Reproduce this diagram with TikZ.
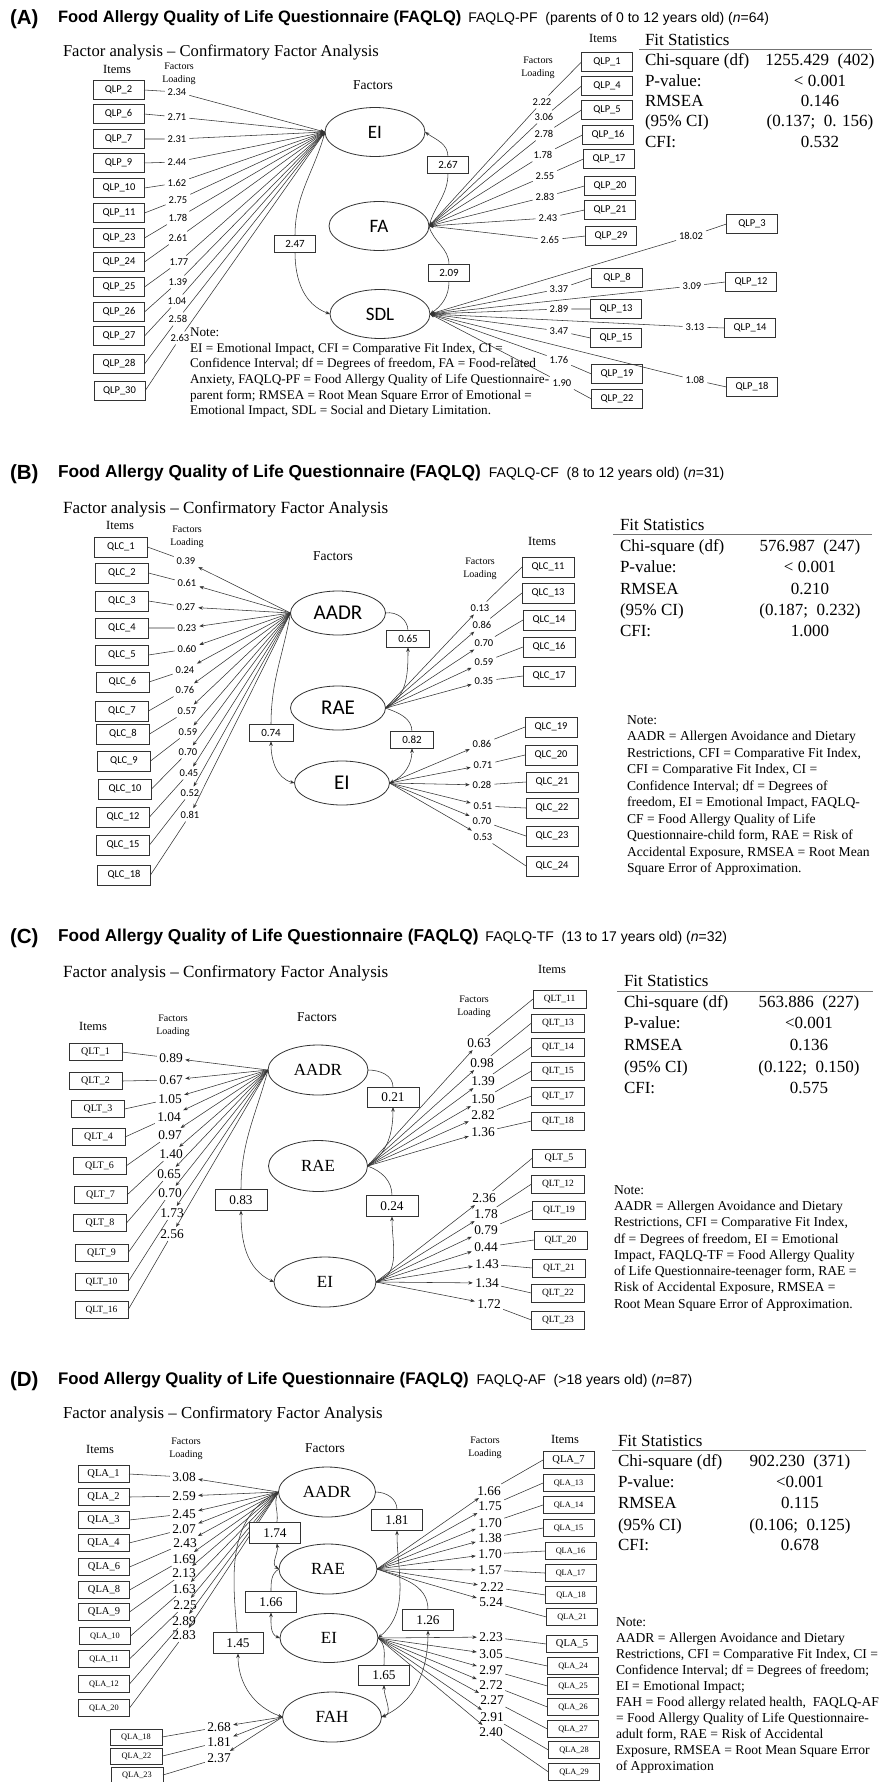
\documentclass[tikz,border=0pt]{standalone}
\usepackage{fontspec}
\setmainfont{Liberation Serif}
\setsansfont{Liberation Sans}
\newfontfamily\calib{Carlito}
\usepackage{tikz}
\usetikzlibrary{arrows.meta, positioning, shapes.geometric}

\tikzset{
  every node/.style={inner sep=0pt, outer sep=0pt},
  >={Stealth[length=4.5pt, width=3.5pt]},
  lk/.style={line width=0.55pt, draw=black!80},
  panel/.style={font=\sffamily\bfseries\fontsize{20.5}{22}\selectfont, anchor=base west},
  ttl/.style={font=\sffamily\bfseries\fontsize{#1}{18}\selectfont, anchor=base west},
  sub/.style={font=\sffamily\fontsize{14}{16}\selectfont, anchor=base west},
  cfa/.style={font=\fontsize{#1}{19}\selectfont, anchor=base west},
  hdr/.style={font=\fontsize{12.5}{14}\selectfont},
  facs/.style={font=\fontsize{13.5}{15}\selectfont},
  fload/.style={font=\fontsize{10}{13}\selectfont, align=center},
  itemsf/.style={draw=black!80, line width=0.8pt, minimum width=51pt, minimum height=19pt, font=\calib\fontsize{10.5}{12}\selectfont},
  itemtm/.style={draw=black!80, line width=0.8pt, minimum width=52pt, minimum height=17pt, font=\fontsize{10}{12}\selectfont},
  itemsm/.style={itemtm, font=\fontsize{8.3}{10}\selectfont},
  ldsf/.style={font=\calib\fontsize{10.5}{12}\selectfont, inner sep=3pt},
  ldtm/.style={font=\fontsize{13.4}{15}\selectfont, inner sep=2.5pt},
  factsf/.style={ellipse, draw=black!80, line width=0.8pt, minimum width=100pt, minimum height=49pt, font=\calib\fontsize{19}{22}\selectfont},
  facttm/.style={ellipse, draw=black!80, line width=0.8pt, minimum width=100pt, minimum height=50pt, font=\fontsize{17}{19}\selectfont},
  covsf/.style={draw=black!80, line width=0.8pt, fill=white, minimum width=41pt, minimum height=16.5pt, font=\calib\fontsize{11}{12}\selectfont},
  covtm/.style={draw=black!80, line width=0.8pt, fill=white, minimum width=52pt, minimum height=21pt, font=\fontsize{13.3}{15}\selectfont},
  fitl/.style={font=\fontsize{17}{19}\selectfont, anchor=base west},
  fitv/.style={font=\fontsize{17}{19}\selectfont, anchor=base},
  rulel/.style={draw=black!55, line width=1pt},
  note/.style={font=\fontsize{13.6}{#1}\selectfont, anchor=base west},
}

\begin{document}
\begin{tikzpicture}[x=1pt, y=1pt]
  \useasboundingbox (0,0) rectangle (887,-1782);

  % (A)
  \node[panel] (pA) at (10,-25) {(A)};
  \node[ttl=16.5] (tA) at (58,-23) {Food Allergy Quality of Life Questionnaire (FAQLQ)};
  \node[sub, right=7pt of tA.base east, anchor=base west] (sA) {FAQLQ-PF\ \ (parents of 0 to 12 years old) (\textit{n}=64)};
  \node[cfa=16.6] (fA) at (63,-57) {Factor analysis -- Confirmatory Factor Analysis};
  \node[hdr] (itA1) at (117,-69) {Items};
  \node[fload] (flA1) at (179,-73.5) {Factors\\Loading};
  \node[facs] (fcA) at (373,-85) {Factors};
  \node[hdr] (itA2) at (603,-38) {Items};
  \node[fload] (flA2) at (538,-67.5) {Factors\\Loading};

  \node[factsf] (eiA) at (375,-132) {EI};
  \node[factsf] (faA) at (379,-226) {FA};
  \node[factsf] (sdlA) at (380,-314) {SDL};

  \node[itemsf] (qlp2) at (118.5,-90) {QLP\_2};
  \node[itemsf] (qlp6) at (118.5,-114) {QLP\_6};
  \node[itemsf] (qlp7) at (118.5,-139) {QLP\_7};
  \node[itemsf] (qlp9) at (118.5,-163) {QLP\_9};
  \node[itemsf] (qlp10) at (119,-188) {QLP\_10};
  \node[itemsf] (qlp11) at (119,-213) {QLP\_11};
  \node[itemsf] (qlp23) at (119,-238) {QLP\_23};
  \node[itemsf] (qlp24) at (119,-262) {QLP\_24};
  \node[itemsf] (qlp25) at (119,-287) {QLP\_25};
  \node[itemsf] (qlp26) at (119,-312) {QLP\_26};
  \node[itemsf] (qlp27) at (119,-336) {QLP\_27};
  \node[itemsf] (qlp28) at (119,-364) {QLP\_28};
  \node[itemsf] (qlp30) at (119.5,-391) {QLP\_30};

  \node[ldsf] (lp2) at (177,-92) {2.34};
  \node[ldsf] (lp6) at (177,-117) {2.71};
  \node[ldsf] (lp7) at (177,-139) {2.31};
  \node[ldsf] (lp9) at (177,-162) {2.44};
  \node[ldsf] (lp10) at (177,-183) {1.62};
  \node[ldsf] (lp11) at (178,-200) {2.75};
  \node[ldsf] (lp23) at (178,-218) {1.78};
  \node[ldsf] (lp24) at (178,-238) {2.61};
  \node[ldsf] (lp25) at (179,-262) {1.77};
  \node[ldsf] (lp26) at (178,-282) {1.39};
  \node[ldsf] (lp27) at (177,-301) {1.04};
  \node[ldsf] (lp28) at (178,-319) {2.58};
  \node[ldsf] (lp30) at (180,-338) {2.63};

  \draw[lk, ->] (qlp2.east) -- (lp2) -- (eiA.west);
  \draw[lk, ->] (qlp6.east) -- (lp6) -- (eiA.west);
  \draw[lk, ->] (qlp7.east) -- (lp7) -- (eiA.west);
  \draw[lk, ->] (qlp9.east) -- (lp9) -- (eiA.west);
  \draw[lk, ->] (qlp10.east) -- (lp10) -- (eiA.west);
  \draw[lk, ->] (qlp11.east) -- (lp11) -- (eiA.west);
  \draw[lk, ->] (qlp23.east) -- (lp23) -- (eiA.west);
  \draw[lk, ->] (qlp24.east) -- (lp24) -- (eiA.west);
  \draw[lk, ->] (qlp25.east) -- (lp25) -- (eiA.west);
  \draw[lk, ->] (qlp26.east) -- (lp26) -- (eiA.west);
  \draw[lk, ->] (qlp27.east) -- (lp27) -- (eiA.west);
  \draw[lk, ->] (qlp28.east) -- (lp28) -- (eiA.west);
  \draw[lk, ->] (qlp30.east) -- (lp30) -- (eiA.west);

  \node[itemsf] (qlp1) at (607,-62) {QLP\_1};
  \node[itemsf] (qlp4) at (607,-86) {QLP\_4};
  \node[itemsf] (qlp5) at (607,-110) {QLP\_5};
  \node[itemsf] (qlp16) at (608,-135) {QLP\_16};
  \node[itemsf] (qlp17) at (609,-159) {QLP\_17};
  \node[itemsf] (qlp20) at (610,-186) {QLP\_20};
  \node[itemsf] (qlp21) at (610,-210) {QLP\_21};
  \node[itemsf] (qlp29) at (611,-236) {QLP\_29};

  \node[ldsf] (lp1) at (542,-102) {2.22};
  \node[ldsf] (lp4) at (544,-117) {3.06};
  \node[ldsf] (lp5) at (544,-134) {2.78};
  \node[ldsf] (lp16) at (543,-155) {1.78};
  \node[ldsf] (lp17) at (545,-176) {2.55};
  \node[ldsf] (lp20) at (545,-197) {2.83};
  \node[ldsf] (lp21) at (548,-218) {2.43};
  \node[ldsf] (lp29) at (550,-240) {2.65};

  \draw[lk, ->] (qlp1.west) -- (lp1) -- (faA.east);
  \draw[lk, ->] (qlp4.west) -- (lp4) -- (faA.east);
  \draw[lk, ->] (qlp5.west) -- (lp5) -- (faA.east);
  \draw[lk, ->] (qlp16.west) -- (lp16) -- (faA.east);
  \draw[lk, ->] (qlp17.west) -- (lp17) -- (faA.east);
  \draw[lk, ->] (qlp20.west) -- (lp20) -- (faA.east);
  \draw[lk, ->] (qlp21.west) -- (lp21) -- (faA.east);
  \draw[lk, ->] (qlp29.west) -- (lp29) -- (faA.east);

  \node[itemsf] (qlp3) at (752,-224) {QLP\_3};
  \node[itemsf] (qlp8) at (617,-278) {QLP\_8};
  \node[itemsf] (qlp12) at (751,-282) {QLP\_12};
  \node[itemsf] (qlp13) at (616,-309) {QLP\_13};
  \node[itemsf] (qlp14) at (750,-328) {QLP\_14};
  \node[itemsf] (qlp15) at (616,-338) {QLP\_15};
  \node[itemsf] (qlp18) at (752,-387) {QLP\_18};
  \node[itemsf] (qlp19) at (617,-374) {QLP\_19};
  \node[itemsf] (qlp22) at (617,-399) {QLP\_22};

  \node[ldsf] (lp3) at (691,-236) {18.02};
  \node[ldsf] (lp8) at (559,-289) {3.37};
  \node[ldsf] (lp12) at (692,-286) {3.09};
  \node[ldsf] (lp13) at (559,-309) {2.89};
  \node[ldsf] (lp14) at (695,-327) {3.13};
  \node[ldsf] (lp15) at (559,-331) {3.47};
  \node[ldsf] (lp18) at (695,-380) {1.08};
  \node[ldsf] (lp19) at (559,-360) {1.76};
  \node[ldsf] (lp22) at (562,-383) {1.90};

  \draw[lk, ->] (qlp3.west) -- (lp3) -- (sdlA.east);
  \draw[lk, ->] (qlp8.west) -- (lp8) -- (sdlA.east);
  \draw[lk, ->] (qlp12.west) -- (lp12) -- (sdlA.east);
  \draw[lk, ->] (qlp13.west) -- (lp13) -- (sdlA.east);
  \draw[lk, ->] (qlp14.west) -- (lp14) -- (sdlA.east);
  \draw[lk, ->] (qlp15.west) -- (lp15) -- (sdlA.east);
  \draw[lk, ->] (qlp18.west) -- (lp18) -- (sdlA.east);
  \draw[lk, ->] (qlp19.west) -- (lp19) -- (sdlA.east);
  \draw[lk, ->] (qlp22.west) -- (lp22) -- (sdlA.east);

  \node[covsf] (kA267) at (448,-165) {2.67};
  \node[covsf] (kA209) at (449,-273) {2.09};
  \node[covsf] (kA247) at (295,-244) {2.47};
  \draw[lk, ->] (faA.east) to[out=75, in=-90] (kA267) to[out=90, in=-35] (eiA.east);
  \draw[lk, ->] (faA.east) to[out=-75, in=90] (kA209) to[out=-90, in=35] (sdlA.east);
  \draw[lk, ->] (eiA.west) to[out=-105, in=90] (kA247) to[out=-90, in=160] (sdlA.west);

  \node[fitl] (fsA) at (645,-46) {Fit Statistics};
  \draw[rulel] (639,-49.5) -- (872,-49.5);
  \node[fitl] (chA) at (645,-66) {Chi-square (df)};
  \node[fitv] (chvA) at (820,-66) {1255.429\ \ (402)};
  \node[fitl] (pvA) at (645,-86.5) {P-value:};
  \node[fitv] (pvvA) at (820,-86.5) {< 0.001};
  \node[fitl] (rmA) at (645,-107) {RMSEA};
  \node[fitv] (rmvA) at (820,-107) {0.146};
  \node[fitl] (ciA) at (645,-127) {(95\% CI)};
  \node[fitv] (civA) at (820,-127) {(0.137;\ \ 0. 156)};
  \node[fitl] (cfA) at (645,-147.5) {CFI:};
  \node[fitv] (cfvA) at (820,-147.5) {0.532};

  \node[note=15.6, font=\fontsize{13.2}{15.6}\selectfont] (nA) at (190,-336.7) {\begin{tabular}[t]{@{}l@{}}Note:\\
    EI = Emotional Impact, CFI = Comparative Fit Index, CI =\\
    Confidence Interval; df = Degrees of freedom, FA = Food-related\\
    Anxiety, FAQLQ-PF = Food Allergy Quality of Life Questionnaire-\\
    parent form; RMSEA = Root Mean Square Error of Emotional =\\
    Emotional Impact, SDL = Social and Dietary Limitation.\end{tabular}};

  % (B)
  \node[panel] (pB) at (10,-479) {(B)};
  \node[ttl=17.3] (tB) at (58,-477) {Food Allergy Quality of Life Questionnaire (FAQLQ)};
  \node[sub, right=8pt of tB.base east, anchor=base west] (sB) {FAQLQ-CF\ \ (8 to 12 years old) (\textit{n}=31)};
  \node[cfa=17.1] (fB) at (63,-513) {Factor analysis -- Confirmatory Factor Analysis};
  \node[hdr] (itB1) at (120,-525) {Items};
  \node[fload] (flB1) at (187,-537) {Factors\\Loading};
  \node[facs] (fcB) at (333,-556) {Factors};
  \node[hdr] (itB2) at (542,-541) {Items};
  \node[fload] (flB2) at (480,-569) {Factors\\Loading};

  \node[factsf, minimum width=95pt, minimum height=44pt, font=\calib\fontsize{21}{22}\selectfont] (aadrB) at (338,-613) {AADR};
  \node[factsf, minimum width=95pt, minimum height=44pt, font=\calib\fontsize{21}{22}\selectfont] (raeB) at (338,-708) {RAE};
  \node[factsf, minimum width=95pt, minimum height=44pt, font=\calib\fontsize{21}{22}\selectfont] (eiB) at (342,-783) {EI};

  \node[itemsf, minimum width=53pt, minimum height=20pt] (qlc1) at (121,-547) {QLC\_1};
  \node[itemsf, minimum width=53pt, minimum height=20pt] (qlc2) at (122,-573) {QLC\_2};
  \node[itemsf, minimum width=53pt, minimum height=20pt] (qlc3) at (122,-601) {QLC\_3};
  \node[itemsf, minimum width=53pt, minimum height=20pt] (qlc4) at (122,-628) {QLC\_4};
  \node[itemsf, minimum width=53pt, minimum height=20pt] (qlc5) at (122,-655) {QLC\_5};
  \node[itemsf, minimum width=53pt, minimum height=20pt] (qlc6) at (122.5,-682) {QLC\_6};
  \node[itemsf, minimum width=53pt, minimum height=20pt] (qlc7) at (122,-711) {QLC\_7};
  \node[itemsf, minimum width=53pt, minimum height=20pt] (qlc8) at (123,-734) {QLC\_8};
  \node[itemsf, minimum width=53pt, minimum height=20pt] (qlc9) at (124,-761) {QLC\_9};
  \node[itemsf, minimum width=53pt, minimum height=20pt] (qlc10) at (125,-789) {QLC\_10};
  \node[itemsf, minimum width=53pt, minimum height=20pt] (qlc12) at (123,-817) {QLC\_12};
  \node[itemsf, minimum width=53pt, minimum height=20pt] (qlc15) at (123,-845) {QLC\_15};
  \node[itemsf, minimum width=53pt, minimum height=20pt] (qlc18) at (124,-875) {QLC\_18};

  \node[ldsf] (lc1) at (186,-561) {0.39};
  \node[ldsf] (lc2) at (187,-583) {0.61};
  \node[ldsf] (lc3) at (186,-607) {0.27};
  \node[ldsf] (lc4) at (187,-628) {0.23};
  \node[ldsf] (lc5) at (187,-649) {0.60};
  \node[ldsf] (lc6) at (185,-670) {0.24};
  \node[ldsf] (lc7) at (185,-690) {0.76};
  \node[ldsf] (lc8) at (187,-711) {0.57};
  \node[ldsf] (lc9) at (188,-732) {0.59};
  \node[ldsf] (lc10) at (188,-752) {0.70};
  \node[ldsf] (lc12) at (189,-773) {0.45};
  \node[ldsf] (lc15) at (190,-793) {0.52};
  \node[ldsf] (lc18) at (190,-815) {0.81};

  \draw[lk, <-] (qlc1.east) -- (lc1) -- (aadrB.west);
  \draw[lk, <-] (qlc2.east) -- (lc2) -- (aadrB.west);
  \draw[lk, <-] (qlc3.east) -- (lc3) -- (aadrB.west);
  \draw[lk, <-] (qlc4.east) -- (lc4) -- (aadrB.west);
  \draw[lk, <-] (qlc5.east) -- (lc5) -- (aadrB.west);
  \draw[lk, <-] (qlc6.east) -- (lc6) -- (aadrB.west);
  \draw[lk, <-] (qlc7.east) -- (lc7) -- (aadrB.west);
  \draw[lk, <-] (qlc8.east) -- (lc8) -- (aadrB.west);
  \draw[lk, <-] (qlc9.east) -- (lc9) -- (aadrB.west);
  \draw[lk, <-] (qlc10.east) -- (lc10) -- (aadrB.west);
  \draw[lk, <-] (qlc12.east) -- (lc12) -- (aadrB.west);
  \draw[lk, <-] (qlc15.east) -- (lc15) -- (aadrB.west);
  \draw[lk, <-] (qlc18.east) -- (lc18) -- (aadrB.west);

  \node[itemsf, minimum width=52pt, minimum height=20pt] (qlc11) at (548,-567) {QLC\_11};
  \node[itemsf, minimum width=52pt, minimum height=20pt] (qlc13) at (548,-593) {QLC\_13};
  \node[itemsf, minimum width=52pt, minimum height=20pt] (qlc14) at (549,-620) {QLC\_14};
  \node[itemsf, minimum width=52pt, minimum height=20pt] (qlc16) at (549,-647) {QLC\_16};
  \node[itemsf, minimum width=52pt, minimum height=20pt] (qlc17) at (549,-676) {QLC\_17};
  \node[itemsf, minimum width=52pt, minimum height=20pt] (qlc19) at (551,-727) {QLC\_19};
  \node[itemsf, minimum width=52pt, minimum height=20pt] (qlc20) at (551,-755) {QLC\_20};
  \node[itemsf, minimum width=52pt, minimum height=20pt] (qlc21) at (552,-782) {QLC\_21};
  \node[itemsf, minimum width=52pt, minimum height=20pt] (qlc22) at (552,-808) {QLC\_22};
  \node[itemsf, minimum width=52pt, minimum height=20pt] (qlc23) at (552,-836) {QLC\_23};
  \node[itemsf, minimum width=52pt, minimum height=20pt] (qlc24) at (552,-866) {QLC\_24};

  \node[ldsf] (lc11) at (480,-608) {0.13};
  \node[ldsf] (lc13) at (482,-625) {0.86};
  \node[ldsf] (lc14) at (484,-643) {0.70};
  \node[ldsf] (lc16) at (484,-662) {0.59};
  \node[ldsf] (lc17) at (484,-681) {0.35};
  \node[ldsf] (lc19) at (482,-744) {0.86};
  \node[ldsf] (lc20) at (483,-765) {0.71};
  \node[ldsf] (lc21) at (482,-785) {0.28};
  \node[ldsf] (lc22) at (483,-806) {0.51};
  \node[ldsf] (lc23) at (482,-821) {0.70};
  \node[ldsf] (lc24) at (483,-837) {0.53};

  \draw[lk, <-] (qlc11.west) -- (lc11) -- (raeB.east);
  \draw[lk, <-] (qlc13.west) -- (lc13) -- (raeB.east);
  \draw[lk, <-] (qlc14.west) -- (lc14) -- (raeB.east);
  \draw[lk, <-] (qlc16.west) -- (lc16) -- (raeB.east);
  \draw[lk, <-] (qlc17.west) -- (lc17) -- (raeB.east);
  \draw[lk, <-] (qlc19.west) -- (lc19) -- (eiB.east);
  \draw[lk, <-] (qlc20.west) -- (lc20) -- (eiB.east);
  \draw[lk, <-] (qlc21.west) -- (lc21) -- (eiB.east);
  \draw[lk, <-] (qlc22.west) -- (lc22) -- (eiB.east);
  \draw[lk, <-] (qlc23.west) -- (lc23) -- (eiB.east);
  \draw[lk, <-] (qlc24.west) -- (lc24) -- (eiB.east);

  \node[covsf, minimum width=43pt] (kB065) at (408,-639) {0.65};
  \node[covsf, minimum width=43pt] (kB082) at (412,-740) {0.82};
  \node[covsf, minimum width=44pt] (kB074) at (271,-733) {0.74};
  \draw[lk, <->] (aadrB.east) to[out=10, in=90] (kB065) to[out=-90, in=30] (raeB.east);
  \draw[lk, <->] (raeB.east) to[out=-20, in=90] (kB082) to[out=-90, in=25] (eiB.east);
  \draw[lk, <->] (aadrB.west) to[out=-100, in=90] (kB074) to[out=-90, in=165] (eiB.west);

  \node[fitl] (fsB) at (620,-530) {Fit Statistics};
  \draw[rulel] (613,-534.3) -- (872,-534.3);
  \node[fitl] (chB) at (620,-551) {Chi-square (df)};
  \node[fitv] (chvB) at (810,-551) {576.987\ \ (247)};
  \node[fitl] (pvB) at (620,-572.7) {P-value:};
  \node[fitv] (pvvB) at (810,-572.7) {< 0.001};
  \node[fitl] (rmB) at (620,-594) {RMSEA};
  \node[fitv] (rmvB) at (810,-594) {0.210};
  \node[fitl] (ciB) at (620,-615) {(95\% CI)};
  \node[fitv] (civB) at (810,-615) {(0.187;\ \ 0.232)};
  \node[fitl] (cfB) at (620,-636.7) {CFI:};
  \node[fitv] (cfvB) at (810,-636.7) {1.000};

  \node[note=16.5] (nB) at (627,-724.3) {\begin{tabular}[t]{@{}l@{}}Note:\\
    AADR = Allergen Avoidance and Dietary\\
    Restrictions, CFI = Comparative Fit Index,\\
    CFI = Comparative Fit Index, CI =\\
    Confidence Interval; df = Degrees of\\
    freedom, EI = Emotional Impact, FAQLQ-\\
    CF = Food Allergy Quality of Life\\
    Questionnaire-child form, RAE = Risk of\\
    Accidental Exposure, RMSEA = Root Mean\\
    Square Error of Approximation.\end{tabular}};

  % (C)
  \node[panel] (pC) at (10,-943) {(C)};
  \node[ttl=17.2] (tC) at (58,-941) {Food Allergy Quality of Life Questionnaire (FAQLQ)};
  \node[sub, right=7pt of tC.base east, anchor=base west] (sC) {FAQLQ-TF\ \ (13 to 17 years old) (\textit{n}=32)};
  \node[cfa=17.1] (fC) at (63,-977) {Factor analysis -- Confirmatory Factor Analysis};
  \node[hdr] (itC1) at (93,-1026) {Items};
  \node[fload] (flC1) at (173,-1026) {Factors\\Loading};
  \node[facs] (fcC) at (317,-1017) {Factors};
  \node[hdr] (itC2) at (552,-969) {Items};
  \node[fload] (flC2) at (474,-1007) {Factors\\Loading};

  \node[facttm] (aadrC) at (318,-1070) {AADR};
  \node[facttm, minimum width=99pt, minimum height=51pt] (raeC) at (318,-1166) {RAE};
  \node[facttm, minimum width=102pt] (eiC) at (325,-1282) {EI};

  \node[itemtm, minimum width=53pt] (qlt1) at (95.5,-1052) {QLT\_1};
  \node[itemtm, minimum width=53pt] (qlt2) at (95.5,-1081) {QLT\_2};
  \node[itemtm, minimum width=53pt] (qlt3) at (98,-1109) {QLT\_3};
  \node[itemtm, minimum width=53pt] (qlt4) at (98.5,-1137) {QLT\_4};
  \node[itemtm, minimum width=53pt] (qlt6) at (99.5,-1166) {QLT\_6};
  \node[itemtm, minimum width=53pt] (qlt7) at (100.5,-1195) {QLT\_7};
  \node[itemtm, minimum width=53pt] (qlt8) at (100,-1223) {QLT\_8};
  \node[itemtm, minimum width=53pt] (qlt9) at (101.5,-1253) {QLT\_9};
  \node[itemtm, minimum width=53pt, font=\fontsize{9.5}{11}\selectfont] (qlt10) at (101.5,-1282) {QLT\_10};
  \node[itemtm, minimum width=53pt, font=\fontsize{9.5}{11}\selectfont] (qlt16) at (101.5,-1310) {QLT\_16};

  \node[ldtm] (lt1) at (171,-1058) {0.89};
  \node[ldtm] (lt2) at (171,-1080) {0.67};
  \node[ldtm] (lt3) at (170,-1099) {1.05};
  \node[ldtm] (lt4) at (169,-1117) {1.04};
  \node[ldtm] (lt6) at (170,-1135) {0.97};
  \node[ldtm] (lt7) at (171,-1154) {1.40};
  \node[ldtm] (lt8) at (169,-1174) {0.65};
  \node[ldtm] (lt9) at (170,-1193) {0.70};
  \node[ldtm] (lt10) at (172,-1213) {1.73};
  \node[ldtm] (lt16) at (172,-1234) {2.56};

  \draw[lk, <-] (qlt1.east) -- (lt1) -- (aadrC.west);
  \draw[lk, <-] (qlt2.east) -- (lt2) -- (aadrC.west);
  \draw[lk, <-] (qlt3.east) -- (lt3) -- (aadrC.west);
  \draw[lk, <-] (qlt4.east) -- (lt4) -- (aadrC.west);
  \draw[lk, <-] (qlt6.east) -- (lt6) -- (aadrC.west);
  \draw[lk, <-] (qlt7.east) -- (lt7) -- (aadrC.west);
  \draw[lk, <-] (qlt8.east) -- (lt8) -- (aadrC.west);
  \draw[lk, <-] (qlt9.east) -- (lt9) -- (aadrC.west);
  \draw[lk, <-] (qlt10.east) -- (lt10) -- (aadrC.west);
  \draw[lk, <-] (qlt16.east) -- (lt16) -- (aadrC.west);

  \node[itemtm, minimum width=53pt, minimum height=18pt, font=\fontsize{9.5}{11}\selectfont] (qlt11) at (559.5,-999) {QLT\_11};
  \node[itemtm, minimum width=53pt, minimum height=18pt, font=\fontsize{9.5}{11}\selectfont] (qlt13) at (558,-1023) {QLT\_13};
  \node[itemtm, minimum width=53pt, minimum height=18pt, font=\fontsize{9.5}{11}\selectfont] (qlt14) at (558,-1047) {QLT\_14};
  \node[itemtm, minimum width=53pt, minimum height=18pt, font=\fontsize{9.5}{11}\selectfont] (qlt15) at (558,-1071) {QLT\_15};
  \node[itemtm, minimum width=53pt, minimum height=18pt, font=\fontsize{9.5}{11}\selectfont] (qlt17) at (558,-1096) {QLT\_17};
  \node[itemtm, minimum width=53pt, minimum height=18pt, font=\fontsize{9.5}{11}\selectfont] (qlt18) at (558,-1121) {QLT\_18};
  \node[itemtm, minimum width=53pt, minimum height=18pt] (qlt5) at (559,-1158) {QLT\_5};
  \node[itemtm, minimum width=53pt, minimum height=18pt, font=\fontsize{9.5}{11}\selectfont] (qlt12) at (558,-1184) {QLT\_12};
  \node[itemtm, minimum width=53pt, minimum height=18pt, font=\fontsize{9.5}{11}\selectfont] (qlt19) at (559,-1210) {QLT\_19};
  \node[itemtm, minimum width=53pt, minimum height=18pt, font=\fontsize{9.5}{11}\selectfont] (qlt20) at (560.5,-1240) {QLT\_20};
  \node[itemtm, minimum width=53pt, minimum height=18pt, font=\fontsize{9.5}{11}\selectfont] (qlt21) at (559,-1268) {QLT\_21};
  \node[itemtm, minimum width=53pt, minimum height=18pt, font=\fontsize{9.5}{11}\selectfont] (qlt22) at (558,-1293) {QLT\_22};
  \node[itemtm, minimum width=53pt, minimum height=18pt, font=\fontsize{9.5}{11}\selectfont] (qlt23) at (558,-1320) {QLT\_23};

  \node[ldtm] (lt11) at (479,-1043) {0.63};
  \node[ldtm] (lt13) at (482,-1063) {0.98};
  \node[ldtm] (lt14) at (483,-1081) {1.39};
  \node[ldtm] (lt15) at (483,-1099) {1.50};
  \node[ldtm] (lt17) at (483,-1115) {2.82};
  \node[ldtm] (lt18) at (483,-1132) {1.36};
  \node[ldtm] (lt5) at (484,-1198) {2.36};
  \node[ldtm] (lt12) at (486,-1214) {1.78};
  \node[ldtm] (lt19) at (486,-1230) {0.79};
  \node[ldtm] (lt20) at (486,-1247) {0.44};
  \node[ldtm] (lt21) at (487,-1264) {1.43};
  \node[ldtm] (lt22) at (487,-1283) {1.34};
  \node[ldtm] (lt23) at (489,-1304) {1.72};

  \draw[lk, <-] (qlt11.west) -- (lt11) -- (raeC.east);
  \draw[lk, <-] (qlt13.west) -- (lt13) -- (raeC.east);
  \draw[lk, <-] (qlt14.west) -- (lt14) -- (raeC.east);
  \draw[lk, <-] (qlt15.west) -- (lt15) -- (raeC.east);
  \draw[lk, <-] (qlt17.west) -- (lt17) -- (raeC.east);
  \draw[lk, <-] (qlt18.west) -- (lt18) -- (raeC.east);
  \draw[lk, <-] (qlt5.west) -- (lt5) -- (eiC.east);
  \draw[lk, <-] (qlt12.west) -- (lt12) -- (eiC.east);
  \draw[lk, <-] (qlt19.west) -- (lt19) -- (eiC.east);
  \draw[lk, <-] (qlt20.west) -- (lt20) -- (eiC.east);
  \draw[lk, <-] (qlt21.west) -- (lt21) -- (eiC.east);
  \draw[lk, <-] (qlt22.west) -- (lt22) -- (eiC.east);
  \draw[lk, <-] (qlt23.west) -- (lt23) -- (eiC.east);

  \node[covtm, minimum height=20pt] (kC021) at (393,-1097) {0.21};
  \node[covtm] (kC024) at (392,-1206) {0.24};
  \node[covtm] (kC083) at (241,-1200) {0.83};
  \draw[lk, <->] (aadrC.east) to[out=0, in=90] (kC021) to[out=-90, in=35] (raeC.east);
  \draw[lk, <->] (raeC.east) to[out=-20, in=90] (kC024) to[out=-90, in=20] (eiC.east);
  \draw[lk, <->] (aadrC.west) to[out=-105, in=90] (kC083) to[out=-90, in=155] (eiC.west);

  \node[fitl] (fsC) at (624,-986.7) {Fit Statistics};
  \draw[rulel] (617,-991) -- (873,-991);
  \node[fitl] (chC) at (624,-1007.7) {Chi-square (df)};
  \node[fitv] (chvC) at (809,-1007.7) {563.886\ \ (227)};
  \node[fitl] (pvC) at (624,-1028.3) {P-value:};
  \node[fitv] (pvvC) at (809,-1028.3) {<0.001};
  \node[fitl] (rmC) at (624,-1050.7) {RMSEA};
  \node[fitv] (rmvC) at (809,-1050.7) {0.136};
  \node[fitl] (ciC) at (624,-1072) {(95\% CI)};
  \node[fitv] (civC) at (809,-1072) {(0.122;\ \ 0.150)};
  \node[fitl] (cfC) at (624,-1093) {CFI:};
  \node[fitv] (cfvC) at (809,-1093) {0.575};

  \node[note=16.33] (nC) at (614,-1194) {\begin{tabular}[t]{@{}l@{}}Note:\\
    AADR = Allergen Avoidance and Dietary\\
    Restrictions, CFI = Comparative Fit Index,\\
    df = Degrees of freedom, EI = Emotional\\
    Impact, FAQLQ-TF = Food Allergy Quality\\
    of Life Questionnaire-teenager form, RAE =\\
    Risk of Accidental Exposure, RMSEA =\\
    Root Mean Square Error of Approximation.\end{tabular}};

  % (D)
  \node[panel] (pD) at (10,-1386) {(D)};
  \node[ttl=16.8] (tD) at (58,-1384) {Food Allergy Quality of Life Questionnaire (FAQLQ)};
  \node[sub, right=8pt of tD.base east, anchor=base west] (sD) {FAQLQ-AF\ \ (>18 years old) (\textit{n}=87)};
  \node[cfa=16.8] (fD) at (63,-1418) {Factor analysis -- Confirmatory Factor Analysis};
  \node[hdr] (itD1) at (100,-1449) {Items};
  \node[fload] (flD1) at (186,-1449) {Factors\\Loading};
  \node[facs] (fcD) at (325,-1448) {Factors};
  \node[fload] (flD2) at (485,-1448) {Factors\\Loading};
  \node[hdr] (itD2) at (565,-1439) {Items};

  \node[facttm, minimum width=97pt] (aadrD) at (327,-1492) {AADR};
  \node[facttm, minimum width=98pt] (raeD) at (328,-1569) {RAE};
  \node[facttm, minimum width=98pt, minimum height=49pt] (eiD) at (329,-1638) {EI};
  \node[facttm, minimum width=99pt] (fahD) at (332,-1717) {FAH};

  \node[itemtm, minimum width=51pt, font=\fontsize{10.5}{12}\selectfont] (qla1) at (103.5,-1474) {QLA\_1};
  \node[itemtm, minimum width=51pt, font=\fontsize{10.5}{12}\selectfont] (qla2) at (103.5,-1497) {QLA\_2};
  \node[itemtm, minimum width=51pt, font=\fontsize{10.5}{12}\selectfont] (qla3) at (103.5,-1520) {QLA\_3};
  \node[itemtm, minimum width=51pt, font=\fontsize{10.5}{12}\selectfont] (qla4) at (103.5,-1543) {QLA\_4};
  \node[itemtm, minimum width=51pt, font=\fontsize{10.5}{12}\selectfont] (qla6) at (104,-1567) {QLA\_6};
  \node[itemtm, minimum width=51pt, font=\fontsize{10.5}{12}\selectfont] (qla8) at (104,-1590) {QLA\_8};
  \node[itemtm, minimum width=51pt, font=\fontsize{10.5}{12}\selectfont] (qla9) at (104,-1612) {QLA\_9};
  \node[itemsm, minimum width=51pt] (qla10) at (105,-1636) {QLA\_10};
  \node[itemsm, minimum width=51pt] (qla11) at (104,-1659) {QLA\_11};
  \node[itemsm, minimum width=51pt] (qla12) at (104,-1684) {QLA\_12};
  \node[itemsm, minimum width=51pt] (qla20) at (104,-1708) {QLA\_20};

  \node[ldtm] (la1) at (184,-1477) {3.08};
  \node[ldtm] (la2) at (184,-1496) {2.59};
  \node[ldtm] (la3) at (184,-1514) {2.45};
  \node[ldtm] (la4) at (184,-1529) {2.07};
  \node[ldtm] (la6) at (185,-1543) {2.43};
  \node[ldtm] (la8) at (184,-1559) {1.69};
  \node[ldtm] (la9) at (184,-1573) {2.13};
  \node[ldtm] (la10) at (184,-1589) {1.63};
  \node[ldtm] (la11) at (185,-1605) {2.25};
  \node[ldtm] (la12) at (184,-1621) {2.89};
  \node[ldtm] (la20) at (184,-1635) {2.83};

  \draw[lk, <-] (qla1.east) -- (la1) -- (aadrD.west);
  \draw[lk, <-] (qla2.east) -- (la2) -- (aadrD.west);
  \draw[lk, <-] (qla3.east) -- (la3) -- (aadrD.west);
  \draw[lk, <-] (qla4.east) -- (la4) -- (aadrD.west);
  \draw[lk, <-] (qla6.east) -- (la6) -- (aadrD.west);
  \draw[lk, <-] (qla8.east) -- (la8) -- (aadrD.west);
  \draw[lk, <-] (qla9.east) -- (la9) -- (aadrD.west);
  \draw[lk, <-] (qla10.east) -- (la10) -- (aadrD.west);
  \draw[lk, <-] (qla11.east) -- (la11) -- (aadrD.west);
  \draw[lk, <-] (qla12.east) -- (la12) -- (aadrD.west);
  \draw[lk, <-] (qla20.east) -- (la20) -- (aadrD.west);

  \node[itemtm, minimum width=51pt, font=\fontsize{10.5}{12}\selectfont] (qla7) at (568.5,-1460) {QLA\_7};
  \node[itemsm, minimum width=51pt] (qla13) at (568.5,-1483) {QLA\_13};
  \node[itemsm, minimum width=51pt] (qla14) at (568.5,-1505) {QLA\_14};
  \node[itemsm, minimum width=51pt] (qla15) at (568.5,-1528) {QLA\_15};
  \node[itemsm, minimum width=51pt] (qla16) at (570.5,-1551) {QLA\_16};
  \node[itemsm, minimum width=51pt] (qla17) at (570.5,-1573) {QLA\_17};
  \node[itemsm, minimum width=51pt] (qla18) at (571,-1595) {QLA\_18};
  \node[itemsm, minimum width=51pt] (qla21) at (572,-1617) {QLA\_21};
  \node[itemtm, minimum width=51pt, font=\fontsize{10.5}{12}\selectfont] (qla5) at (572,-1644) {QLA\_5};
  \node[itemsm, minimum width=51pt] (qla24) at (573,-1666) {QLA\_24};
  \node[itemsm, minimum width=51pt] (qla25) at (573,-1686) {QLA\_25};
  \node[itemsm, minimum width=51pt] (qla26) at (573,-1707) {QLA\_26};
  \node[itemsm, minimum width=51pt] (qla27) at (573,-1729) {QLA\_27};
  \node[itemsm, minimum width=51pt] (qla28) at (574,-1750) {QLA\_28};
  \node[itemsm, minimum width=51pt] (qla29) at (574,-1772) {QLA\_29};

  \node[ldtm] (la7) at (489,-1491) {1.66};
  \node[ldtm] (la13) at (490,-1506) {1.75};
  \node[ldtm] (la14) at (490,-1523) {1.70};
  \node[ldtm] (la15) at (490,-1538) {1.38};
  \node[ldtm] (la16) at (490,-1554) {1.70};
  \node[ldtm] (la17) at (490,-1570) {1.57};
  \node[ldtm] (la18) at (492,-1587) {2.22};
  \node[ldtm] (la21) at (491,-1602) {5.24};
  \node[ldtm] (la5) at (491,-1637) {2.23};
  \node[ldtm] (la24) at (491,-1654) {3.05};
  \node[ldtm] (la25) at (491,-1670) {2.97};
  \node[ldtm] (la26) at (491,-1685) {2.72};
  \node[ldtm] (la27) at (492,-1700) {2.27};
  \node[ldtm] (la28) at (492,-1717) {2.91};
  \node[ldtm] (la29) at (491,-1732) {2.40};

  \draw[lk, <-] (qla7.west) -- (la7) -- (raeD.east);
  \draw[lk, <-] (qla13.west) -- (la13) -- (raeD.east);
  \draw[lk, <-] (qla14.west) -- (la14) -- (raeD.east);
  \draw[lk, <-] (qla15.west) -- (la15) -- (raeD.east);
  \draw[lk, <-] (qla16.west) -- (la16) -- (raeD.east);
  \draw[lk, <-] (qla17.west) -- (la17) -- (raeD.east);
  \draw[lk, <-] (qla18.west) -- (la18) -- (raeD.east);
  \draw[lk, <-] (qla21.west) -- (la21) -- (raeD.east);
  \draw[lk, <-] (qla5.west) -- (la5) -- (eiD.east);
  \draw[lk, <-] (qla24.west) -- (la24) -- (eiD.east);
  \draw[lk, <-] (qla25.west) -- (la25) -- (eiD.east);
  \draw[lk, <-] (qla26.west) -- (la26) -- (eiD.east);
  \draw[lk, <-] (qla27.west) -- (la27) -- (eiD.east);
  \draw[lk, <-] (qla28.west) -- (la28) -- (eiD.east);
  \draw[lk, <-] (qla29.west) -- (la29) -- (eiD.east);

  \node[itemsm, minimum height=16pt] (qlaf18) at (136,-1737) {QLA\_18};
  \node[itemsm, minimum height=16pt] (qlaf22) at (136.5,-1756) {QLA\_22};
  \node[itemsm, minimum height=16pt] (qlaf23) at (137,-1775) {QLA\_23};
  \node[ldtm] (laf18) at (219,-1727) {2.68};
  \node[ldtm] (laf22) at (219,-1742) {1.81};
  \node[ldtm] (laf23) at (219,-1758) {2.37};
  \draw[lk, <-] (qlaf18.east) -- (laf18) -- (fahD.west);
  \draw[lk, <-] (qlaf22.east) -- (laf22) -- (fahD.west);
  \draw[lk, <-] (qlaf23.east) -- (laf23) -- (fahD.west);

  \node[covtm, minimum width=51pt] (kD181) at (397,-1520) {1.81};
  \node[covtm, minimum width=51pt] (kD174) at (275,-1533) {1.74};
  \node[covtm, minimum width=51pt] (kD166) at (271,-1602) {1.66};
  \node[covtm, minimum width=50pt] (kD145) at (238,-1643) {1.45};
  \node[covtm, minimum width=51pt] (kD126) at (428,-1620) {1.26};
  \node[covtm, minimum width=51pt, minimum height=20pt] (kD165) at (384,-1675) {1.65};
  \draw[lk, <->] (aadrD.east) to[out=0, in=90] (kD181) to[out=-90, in=40] (eiD.east);
  \draw[lk, <->] (aadrD.west) to[out=-120, in=80] (kD174) to[out=-80, in=150] (raeD.west);
  \draw[lk, <->] (raeD.west) to[out=210, in=90] (kD166) to[out=-90, in=160] (eiD.west);
  \draw[lk, <->] (aadrD.west) to[out=-155, in=95] (kD145) to[out=-90, in=160] (fahD.west);
  \draw[lk, <->] (raeD.east) to[out=-20, in=90] (kD126) to[out=-90, in=25] (fahD.east);
  \draw[lk, <->] (eiD.east) to[out=-40, in=90] (kD165) to[out=-90, in=15] (fahD.east);

  \node[fitl] (fsD) at (618,-1446) {Fit Statistics};
  \draw[rulel] (612,-1450) -- (866,-1450);
  \node[fitl] (chD) at (618,-1466.7) {Chi-square (df)};
  \node[fitv] (chvD) at (800,-1466.7) {902.230\ \ (371)};
  \node[fitl] (pvD) at (618,-1487.7) {P-value:};
  \node[fitv] (pvvD) at (800,-1487.7) {<0.001};
  \node[fitl] (rmD) at (618,-1508.3) {RMSEA};
  \node[fitv] (rmvD) at (800,-1508.3) {0.115};
  \node[fitl] (ciD) at (618,-1530) {(95\% CI)};
  \node[fitv] (civD) at (800,-1530) {(0.106;\ \ 0.125)};
  \node[fitl] (cfD) at (618,-1550) {CFI:};
  \node[fitv] (cfvD) at (800,-1550) {0.678};

  \node[note=16] (nD) at (616,-1626) {\begin{tabular}[t]{@{}l@{}}Note:\\
    AADR = Allergen Avoidance and Dietary\\
    Restrictions, CFI = Comparative Fit Index, CI =\\
    Confidence Interval; df = Degrees of freedom;\\
    EI = Emotional Impact;\\
    FAH = Food allergy related health,\ \ FAQLQ-AF\\
    = Food Allergy Quality of Life Questionnaire-\\
    adult form, RAE = Risk of Accidental\\
    Exposure, RMSEA = Root Mean Square Error\\
    of Approximation\end{tabular}};
\end{tikzpicture}
\end{document}
